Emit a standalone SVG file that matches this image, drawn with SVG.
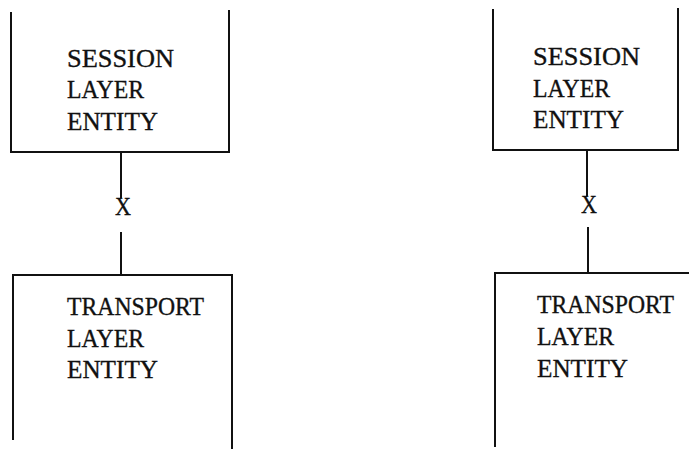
<svg xmlns="http://www.w3.org/2000/svg" width="689" height="449" viewBox="0 0 689 449">
<style>
.box{fill:none;stroke:#111;stroke-width:2}
.ln{stroke:#111;stroke-width:2;fill:none}
text{font-family:"Liberation Serif","Times New Roman",serif;font-size:26px;fill:#111;stroke:#111;stroke-width:0.35}
</style>
<rect width="689" height="449" fill="#fff"/>
<g id="session-left">
<path class="box" d="M11,12 V152 H229 V10"/>
<text x="67" y="67" textLength="107" lengthAdjust="spacingAndGlyphs">SESSION</text>
<text x="67" y="98" textLength="77" lengthAdjust="spacingAndGlyphs">LAYER</text>
<text x="67" y="130" textLength="91" lengthAdjust="spacingAndGlyphs">ENTITY</text>
</g>
<g id="transport-left">
<path class="box" d="M13,440 V275 H232 V449"/>
<text x="67" y="315" textLength="137" lengthAdjust="spacingAndGlyphs">TRANSPORT</text>
<text x="67" y="347" textLength="77" lengthAdjust="spacingAndGlyphs">LAYER</text>
<text x="67" y="378" textLength="91" lengthAdjust="spacingAndGlyphs">ENTITY</text>
</g>
<g id="session-right">
<path class="box" d="M493,9 V150 H678 V8"/>
<text x="533" y="65" textLength="107" lengthAdjust="spacingAndGlyphs">SESSION</text>
<text x="533" y="97" textLength="77" lengthAdjust="spacingAndGlyphs">LAYER</text>
<text x="533" y="128" textLength="91" lengthAdjust="spacingAndGlyphs">ENTITY</text>
</g>
<g id="transport-right">
<path class="box" d="M495,447 V273 H689"/>
<text x="537" y="313" textLength="137" lengthAdjust="spacingAndGlyphs">TRANSPORT</text>
<text x="537" y="345" textLength="77" lengthAdjust="spacingAndGlyphs">LAYER</text>
<text x="537" y="377" textLength="91" lengthAdjust="spacingAndGlyphs">ENTITY</text>
</g>
<g id="connectors">
<path class="ln" d="M121,152 V198 M121,232 V275"/>
<text x="123" y="215" text-anchor="middle" textLength="16" lengthAdjust="spacingAndGlyphs">X</text>
<path class="ln" d="M587,150 V196 M588,227 V273"/>
<text x="589" y="213" text-anchor="middle" textLength="16" lengthAdjust="spacingAndGlyphs">X</text>
</g>
</svg>
